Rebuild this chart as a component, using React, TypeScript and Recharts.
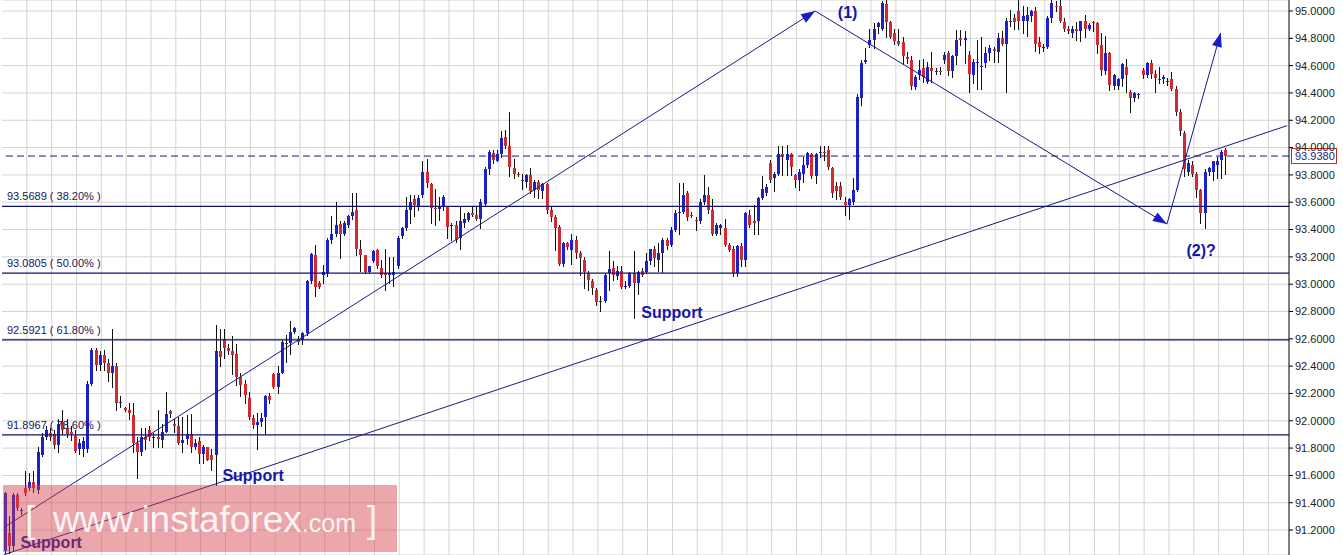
import React from "react";
import {
  Bar,
  CartesianGrid,
  ComposedChart,
  ReferenceDot,
  ReferenceLine,
  XAxis,
  YAxis,
} from "recharts";

type Ohlc = [number, number, number, number];

// H4 candles as [open, high, low, close] left to right
const candlesA: Ohlc[] = [
  [91.05, 91.48, 91.03, 91.47], [91.18, 91.3, 91.03, 91.08], [91.08, 91.47, 91.05, 91.46], [91.46, 91.47, 91.35, 91.36], [91.35, 91.36, 91.32, 91.35],
  [91.51, 91.63, 91.46, 91.47], [91.51, 91.62, 91.49, 91.55], [91.55, 91.63, 91.48, 91.51], [91.49, 91.81, 91.47, 91.77], [91.75, 91.91, 91.74, 91.88],
  [91.88, 91.96, 91.87, 91.93], [91.91, 91.95, 91.86, 91.88], [91.9, 91.93, 91.8, 91.82], [91.82, 92.01, 91.77, 91.98], [91.99, 92.08, 91.9, 91.93],
  [91.95, 92.01, 91.88, 91.9], [91.92, 91.96, 91.86, 91.9], [91.89, 91.93, 91.77, 91.78], [91.79, 91.87, 91.76, 91.84], [91.79, 91.88, 91.74, 91.85],
  [91.79, 92.29, 91.77, 92.27], [92.27, 92.53, 92.26, 92.52], [92.52, 92.53, 92.37, 92.41], [92.41, 92.51, 92.37, 92.48], [92.48, 92.52, 92.37, 92.42],
  [92.42, 92.45, 92.29, 92.35], [92.35, 92.67, 92.25, 92.4], [92.4, 92.42, 92.08, 92.13], [92.14, 92.18, 92.1, 92.14], [92.09, 92.1, 92.07, 92.08],
  [92.08, 92.13, 92.01, 92.06], [92.04, 92.13, 91.77, 91.84], [91.84, 91.88, 91.58, 91.77], [91.77, 91.95, 91.75, 91.88], [91.88, 91.95, 91.79, 91.86],
  [91.93, 91.96, 91.86, 91.88], [91.88, 91.91, 91.81, 91.88], [91.88, 92.08, 91.81, 91.87], [91.86, 91.98, 91.81, 91.92], [91.92, 92.21, 91.92, 92.05],
  [92.07, 92.08, 92.03, 92.05], [91.98, 92.01, 91.92, 91.96], [91.96, 92.03, 91.83, 91.84], [91.84, 92.03, 91.77, 91.86], [91.87, 92.04, 91.83, 91.9],
  [91.9, 92.05, 91.77, 91.81], [91.81, 91.87, 91.79, 91.84], [91.85, 91.88, 91.69, 91.76], [91.76, 91.82, 91.69, 91.81], [91.81, 91.81, 91.71, 91.71],
];

const candlesB: Ohlc[] = [
  [91.75, 91.79, 91.64, 91.71], [91.75, 92.7, 91.53, 92.51], [92.51, 92.67, 92.4, 92.47], [92.6, 92.67, 92.46, 92.53], [92.53, 92.56, 92.49, 92.51],
  [92.51, 92.62, 92.34, 92.48], [92.49, 92.56, 92.26, 92.32], [92.32, 92.35, 92.18, 92.26], [92.27, 92.3, 92.13, 92.19], [92.17, 92.21, 92.01, 92.03],
  [92.02, 92.04, 91.95, 91.97], [91.97, 92.06, 91.79, 91.99], [91.99, 92.06, 91.96, 92.02], [92.03, 92.19, 91.9, 92.18], [92.18, 92.2, 92.13, 92.15],
  [92.34, 92.35, 92.24, 92.25], [92.25, 92.4, 92.2, 92.35], [92.35, 92.59, 92.35, 92.58], [92.57, 92.63, 92.43, 92.57], [92.57, 92.73, 92.49, 92.65],
  [92.65, 92.69, 92.64, 92.68], [92.6, 92.62, 92.56, 92.58], [92.59, 92.65, 92.56, 92.64], [92.64, 93.03, 92.63, 93.02], [93.02, 93.23, 93.01, 93.22],
  [93.21, 93.29, 92.91, 92.98], [93.01, 93.02, 92.97, 92.98], [93.07, 93.14, 93.01, 93.09], [93.08, 93.34, 93.06, 93.32], [93.32, 93.5, 93.3, 93.37],
  [93.37, 93.6, 93.35, 93.43], [93.44, 93.46, 93.19, 93.37], [93.37, 93.46, 93.36, 93.45], [93.43, 93.51, 93.42, 93.5], [93.5, 93.67, 93.48, 93.53],
  [93.54, 93.67, 93.21, 93.26], [93.26, 93.32, 93.1, 93.21], [93.21, 93.21, 93.08, 93.09], [93.09, 93.13, 93.08, 93.13], [93.17, 93.25, 93.16, 93.24],
  [93.25, 93.26, 93.12, 93.13], [93.12, 93.18, 93.05, 93.07], [93.08, 93.26, 92.96, 93.07], [93.07, 93.2, 93.01, 93.08], [93.07, 93.2, 92.99, 93.09],
  [93.13, 93.35, 93.12, 93.34], [93.35, 93.42, 93.34, 93.41], [93.41, 93.64, 93.4, 93.54], [93.54, 93.65, 93.45, 93.6], [93.62, 93.65, 93.5, 93.58],
];

const candlesC: Ohlc[] = [
  [93.57, 93.65, 93.54, 93.63], [93.65, 93.9, 93.64, 93.82], [93.82, 93.92, 93.71, 93.74], [93.73, 93.74, 93.45, 93.56], [93.56, 93.7, 93.43, 93.55],
  [93.55, 93.64, 93.47, 93.57], [93.57, 93.65, 93.54, 93.64], [93.57, 93.57, 93.34, 93.42], [93.43, 93.45, 93.32, 93.43], [93.43, 93.46, 93.31, 93.32],
  [93.34, 93.57, 93.26, 93.46], [93.45, 93.52, 93.42, 93.48], [93.47, 93.53, 93.46, 93.52], [93.52, 93.57, 93.5, 93.51], [93.51, 93.57, 93.47, 93.48],
  [93.48, 93.62, 93.41, 93.6], [93.59, 93.86, 93.58, 93.84], [93.84, 93.98, 93.81, 93.97], [93.96, 93.98, 93.89, 93.91], [93.9, 93.98, 93.9, 93.95],
  [93.95, 94.12, 93.93, 94.07], [94.08, 94.13, 94.0, 94.01], [94.01, 94.26, 93.79, 93.86], [93.85, 93.92, 93.78, 93.81], [93.81, 93.82, 93.79, 93.8],
  [93.76, 93.81, 93.7, 93.76], [93.75, 93.81, 93.71, 93.8], [93.8, 93.85, 93.67, 93.68], [93.69, 93.76, 93.64, 93.75], [93.75, 93.76, 93.63, 93.69],
  [93.68, 93.74, 93.63, 93.73], [93.73, 93.74, 93.52, 93.54], [93.54, 93.57, 93.46, 93.49], [93.49, 93.51, 93.25, 93.41], [93.42, 93.43, 93.14, 93.15],
  [93.15, 93.31, 93.13, 93.3], [93.3, 93.31, 93.26, 93.27], [93.25, 93.37, 93.15, 93.32], [93.32, 93.35, 93.19, 93.23], [93.23, 93.24, 93.07, 93.19],
  [93.18, 93.2, 92.97, 93.09], [93.08, 93.1, 92.96, 93.03], [93.02, 93.04, 92.93, 92.97], [92.96, 92.97, 92.85, 92.87], [92.88, 92.91, 92.8, 92.88],
  [92.88, 93.08, 92.87, 93.07], [93.08, 93.24, 92.96, 93.11], [93.12, 93.17, 93.03, 93.07], [93.06, 93.13, 93.04, 93.1], [93.1, 93.13, 92.97, 92.98],
];

const candlesD: Ohlc[] = [
  [92.99, 93.02, 92.97, 92.99], [92.99, 93.09, 92.98, 93.08], [93.08, 93.24, 92.75, 93.01], [93.01, 93.1, 92.93, 93.09], [93.1, 93.12, 93.06, 93.07],
  [93.09, 93.23, 93.08, 93.17], [93.17, 93.26, 93.15, 93.26], [93.26, 93.28, 93.13, 93.19], [93.18, 93.3, 93.1, 93.23], [93.23, 93.34, 93.09, 93.32],
  [93.32, 93.34, 93.26, 93.28], [93.29, 93.42, 93.28, 93.4], [93.4, 93.54, 93.39, 93.52], [93.52, 93.74, 93.37, 93.53], [93.53, 93.74, 93.52, 93.65],
  [93.67, 93.68, 93.47, 93.49], [93.51, 93.53, 93.49, 93.5], [93.47, 93.49, 93.4, 93.46], [93.46, 93.62, 93.45, 93.6], [93.6, 93.8, 93.59, 93.65],
  [93.65, 93.71, 93.52, 93.54], [93.54, 93.62, 93.36, 93.37], [93.37, 93.45, 93.36, 93.43], [93.41, 93.44, 93.37, 93.43], [93.41, 93.48, 93.28, 93.29],
  [93.29, 93.3, 93.24, 93.25], [93.26, 93.28, 93.06, 93.08], [93.08, 93.29, 93.06, 93.28], [93.28, 93.3, 93.13, 93.18], [93.18, 93.53, 93.13, 93.52],
  [93.51, 93.54, 93.42, 93.43], [93.46, 93.58, 93.37, 93.45], [93.46, 93.64, 93.37, 93.63], [93.63, 93.79, 93.62, 93.7], [93.67, 93.73, 93.65, 93.71],
  [93.89, 93.91, 93.75, 93.76], [93.78, 93.82, 93.68, 93.81], [93.81, 94.01, 93.8, 93.95], [93.95, 94.01, 93.8, 93.93], [93.91, 94.02, 93.8, 93.95],
  [93.95, 93.96, 93.8, 93.86], [93.8, 93.81, 93.71, 93.76], [93.76, 93.84, 93.69, 93.82], [93.81, 93.93, 93.75, 93.87], [93.87, 93.97, 93.86, 93.96],
  [93.95, 93.96, 93.78, 93.79], [93.79, 93.96, 93.74, 93.95], [93.96, 94.01, 93.93, 93.97], [93.97, 94.01, 93.91, 93.96], [93.98, 94.01, 93.84, 93.86],
];

const candlesE: Ohlc[] = [
  [93.85, 93.86, 93.64, 93.67], [93.72, 93.75, 93.62, 93.68], [93.72, 93.75, 93.62, 93.64], [93.6, 93.64, 93.51, 93.58], [93.58, 93.63, 93.48, 93.62],
  [93.6, 93.78, 93.59, 93.69], [93.69, 94.39, 93.68, 94.37], [94.36, 94.64, 94.31, 94.62], [94.63, 94.73, 94.62, 94.64], [94.75, 94.87, 94.74, 94.79],
  [94.79, 94.91, 94.73, 94.87], [94.88, 94.92, 94.84, 94.91], [94.87, 95.07, 94.86, 95.06], [95.05, 95.08, 94.81, 94.92], [94.92, 94.93, 94.8, 94.81],
  [94.84, 94.87, 94.76, 94.78], [94.78, 94.87, 94.75, 94.76], [94.77, 94.81, 94.61, 94.67], [94.66, 94.7, 94.62, 94.65], [94.64, 94.67, 94.43, 94.45],
  [94.44, 94.53, 94.43, 94.52], [94.53, 94.64, 94.5, 94.57], [94.58, 94.65, 94.48, 94.52], [94.48, 94.63, 94.47, 94.59], [94.58, 94.7, 94.48, 94.56],
  [94.56, 94.58, 94.54, 94.56], [94.56, 94.59, 94.54, 94.55], [94.64, 94.7, 94.62, 94.68], [94.69, 94.71, 94.53, 94.56], [94.56, 94.68, 94.52, 94.67],
  [94.67, 94.86, 94.61, 94.79], [94.8, 94.86, 94.75, 94.79], [94.79, 94.85, 94.62, 94.8], [94.68, 94.71, 94.41, 94.54], [94.53, 94.65, 94.47, 94.63],
  [94.63, 94.79, 94.43, 94.63], [94.6, 94.81, 94.43, 94.6], [94.62, 94.74, 94.59, 94.69], [94.69, 94.75, 94.64, 94.73], [94.72, 94.74, 94.63, 94.71],
  [94.7, 94.84, 94.63, 94.8], [94.8, 94.85, 94.75, 94.76], [94.76, 94.95, 94.41, 94.93], [94.92, 95.01, 94.89, 94.93], [94.95, 94.98, 94.87, 94.92],
  [95.0, 95.08, 94.87, 94.93], [94.93, 95.04, 94.84, 94.96], [94.93, 95.03, 94.82, 94.97], [94.96, 95.01, 94.93, 95.0], [95.0, 95.03, 94.71, 94.76],
];

const candlesF: Ohlc[] = [
  [94.77, 94.81, 94.69, 94.74], [94.73, 94.76, 94.71, 94.74], [94.74, 94.96, 94.73, 94.95], [94.95, 95.08, 94.92, 95.06], [95.04, 95.07, 95.0, 95.03],
  [95.04, 95.08, 94.92, 94.93], [94.92, 94.95, 94.85, 94.87], [94.87, 94.89, 94.84, 94.85], [94.84, 94.89, 94.81, 94.87], [94.87, 94.92, 94.79, 94.85],
  [94.85, 94.93, 94.78, 94.93], [94.93, 94.97, 94.81, 94.87], [94.87, 94.91, 94.86, 94.9], [94.92, 94.93, 94.85, 94.91], [94.91, 94.92, 94.69, 94.75],
  [94.75, 94.84, 94.53, 94.57], [94.56, 94.82, 94.54, 94.69], [94.69, 94.7, 94.42, 94.46], [94.45, 94.54, 94.43, 94.53], [94.45, 94.51, 94.43, 94.5],
  [94.5, 94.62, 94.45, 94.61], [94.59, 94.65, 94.41, 94.53], [94.41, 94.42, 94.26, 94.36], [94.36, 94.41, 94.34, 94.4], [94.39, 94.4, 94.36, 94.39],
  [94.57, 94.58, 94.51, 94.53], [94.53, 94.63, 94.52, 94.62], [94.62, 94.64, 94.51, 94.54], [94.54, 94.57, 94.41, 94.51], [94.5, 94.59, 94.47, 94.5],
  [94.5, 94.53, 94.47, 94.52], [94.49, 94.51, 94.46, 94.49], [94.5, 94.55, 94.42, 94.43], [94.43, 94.45, 94.24, 94.26], [94.26, 94.28, 94.09, 94.12],
  [94.11, 94.12, 93.79, 93.84], [93.82, 93.91, 93.8, 93.89], [93.87, 93.9, 93.79, 93.81], [93.81, 93.82, 93.64, 93.69], [93.69, 93.7, 93.45, 93.52],
  [93.52, 93.84, 93.41, 93.82], [93.82, 93.86, 93.8, 93.85], [93.82, 93.9, 93.76, 93.9], [93.87, 93.93, 93.78, 93.9], [93.91, 93.98, 93.78, 93.97],
  [93.98, 94.0, 93.81, 93.94],
];

// empty future slots to the right of the last candle
const emptySlots = 15;

const priceTicks = [
  91.2, 91.4, 91.6, 91.8, 92.0, 92.2, 92.4, 92.6, 92.8, 93.0,
  93.2, 93.4, 93.6, 93.8, 94.0, 94.2, 94.4, 94.6, 94.8, 95.0,
];

const fibLevels = [
  { price: 93.5689, pct: "38.20%" },
  { price: 93.0805, pct: "50.00%" },
  { price: 92.5921, pct: "61.80%" },
  { price: 91.8967, pct: "78.60%" },
];

const lastPrice = 93.938;

// trend lines as [candle index, price] end points
const supportLine = [
  { x: 0, y: 91.02 },
  { x: 310, y: 94.16 },
];
const waveArrows = [
  [{ x: 0, y: 91.22 }, { x: 196, y: 95.0 }],
  [{ x: 196, y: 95.0 }, { x: 281, y: 93.44 }],
  [{ x: 281, y: 93.44 }, { x: 294, y: 94.84 }],
];

const notes = [
  { x: 201, y: 94.949, text: "(1)", dx: 2 },
  { x: 285, y: 93.206, text: "(2)?", dx: 3 },
  { x: 154, y: 92.752, text: "Support", dx: 0 },
  { x: 53, y: 91.559, text: "Support", dx: -1 },
  { x: 4, y: 91.069, text: "Support", dx: 0 },
];

const allCandles = [...candlesA, ...candlesB, ...candlesC, ...candlesD, ...candlesE, ...candlesF];
const rows = [
  ...allCandles.map(([o, h, l, c], i) => ({ i, o, h, l, c, range: [l, h] as [number, number] | null })),
  ...Array.from({ length: emptySlots }, (_, k) => ({
    i: allCandles.length + k,
    o: 0,
    h: 0,
    l: 0,
    c: 0,
    range: null as [number, number] | null,
  })),
];
const gridCols = rows.map((r) => r.i).filter((i) => i > 0 && i % 6 === 0);

const UP = "#1c20c8";
const DOWN = "#d22a2e";
const NAVY = "#1a1a86";
const FONT = "'Liberation Sans', Arial, sans-serif";

function Candle(props: any) {
  const { x, y, width, height, payload } = props;
  if (!payload || !payload.range) return null;
  const { o, h, l, c } = payload;
  const top = Math.min(y, y + height);
  const bottom = Math.max(y, y + height);
  const span = h - l || 0.0001;
  const py = (v: number) => top + ((h - v) / span) * (bottom - top);
  const cx = Math.round(x + width / 2) + 0.5;
  const bTop = Math.round(py(Math.max(o, c)));
  const bBot = Math.round(py(Math.min(o, c)));
  return (
    <g>
      <line x1={cx} x2={cx} y1={Math.round(top)} y2={Math.round(bottom) + 1} stroke="#111" strokeWidth={1} />
      <rect x={cx - 1.5} y={bTop} width={3} height={Math.max(1, bBot - bTop)} fill={c >= o ? UP : DOWN} />
    </g>
  );
}

function arrowLine(p: any) {
  const { x1, y1, x2, y2 } = p;
  const len = Math.hypot(x2 - x1, y2 - y1) || 1;
  const ux = (x2 - x1) / len;
  const uy = (y2 - y1) / len;
  const bx = x2 - ux * 14;
  const by = y2 - uy * 14;
  const pts = `${x2},${y2} ${bx - uy * 5},${by + ux * 5} ${bx + uy * 5},${by - ux * 5}`;
  return (
    <g>
      <line x1={x1} y1={y1} x2={x2} y2={y2} stroke={NAVY} strokeWidth={1} />
      <polygon points={pts} fill="#1a1acc" />
    </g>
  );
}

export default function App() {
  return (
    <div style={{ position: "absolute", left: 0, top: 0, width: 1343, height: 555, overflow: "hidden", background: "#fff" }}>
      <ComposedChart
        width={1343}
        height={555}
        data={rows}
        margin={{ top: 0, right: 0, bottom: 0, left: 2 }}
        style={{ fontFamily: FONT }}
      >
        <CartesianGrid
          stroke="#d4d4d4"
          verticalCoordinatesGenerator={({ offset }: any) => {
            const left = offset?.left ?? 2;
            const w = offset?.width ?? 1287;
            return gridCols.map((i) => left + (i * w) / rows.length);
          }}
        />
        <XAxis dataKey="i" type="category" hide />
        <YAxis
          orientation="right"
          width={54}
          domain={[91.0173, 95.0805]}
          allowDataOverflow
          ticks={priceTicks}
          interval={0}
          tickFormatter={(v: number) => v.toFixed(4)}
          tick={{ fontSize: 11, fill: "#222", fontFamily: FONT }}
          tickSize={4}
          axisLine={{ stroke: "#000" }}
          tickLine={{ stroke: "#000" }}
        />
        {fibLevels.map((f) => (
          <ReferenceLine
            key={f.pct}
            y={f.price}
            stroke="#10106e"
            strokeWidth={1.3}
            label={(lp: any) => (
              <text x={lp.viewBox.x + 5} y={lp.viewBox.y - 6} fontSize={11} fill="#16165e" fontFamily={FONT}>
                {`${f.price.toFixed(4)} ( ${f.pct} )`}
              </text>
            )}
          />
        ))}
        <ReferenceLine
          y={lastPrice}
          stroke={NAVY}
          strokeDasharray="7 4"
          label={(lp: any) => {
            const bx = lp.viewBox.x + lp.viewBox.width + 2;
            const by = lp.viewBox.y;
            return (
              <g>
                <rect x={bx + 0.5} y={by - 7.5} width={45} height={15} fill="#fff" stroke="#c42a2a" />
                <text x={bx + 4} y={by + 4} fontSize={11} fill={NAVY} fontFamily={FONT}>
                  {lastPrice.toFixed(4)}
                </text>
              </g>
            );
          }}
        />
        <ReferenceLine segment={supportLine} stroke={NAVY} strokeWidth={1} />
        {waveArrows.map((seg, k) => (
          <ReferenceLine key={k} segment={seg} shape={arrowLine} />
        ))}
        <Bar dataKey="range" barSize={3} shape={Candle} isAnimationActive={false} />
        {notes.map((n, k) => (
          <ReferenceDot
            key={k}
            x={n.x}
            y={n.y}
            r={1}
            fill="none"
            stroke="none"
            label={(lp: any) => (
              <text
                x={lp.viewBox.x + lp.viewBox.width / 2 + n.dx}
                y={lp.viewBox.y + lp.viewBox.height / 2}
                fontSize={16}
                fontWeight="bold"
                fill="#1616a8"
                fontFamily={FONT}
              >
                {n.text}
              </text>
            )}
          />
        ))}
      </ComposedChart>
      <div
        style={{
          position: "absolute",
          left: 3,
          top: 485,
          width: 394,
          height: 67,
          background: "rgba(210, 60, 70, 0.45)",
          color: "rgba(255, 255, 255, 0.9)",
          fontFamily: FONT,
          lineHeight: 1,
          whiteSpace: "nowrap",
        }}
      >
        <span style={{ position: "absolute", left: 22, top: 16, fontSize: 37 }}>[</span>
        <span style={{ position: "absolute", left: 50, top: 16, fontSize: 37 }}>
          www.instaforex<span style={{ fontSize: 25 }}>.com</span>
        </span>
        <span style={{ position: "absolute", left: 364, top: 16, fontSize: 37 }}>]</span>
      </div>
    </div>
  );
}
